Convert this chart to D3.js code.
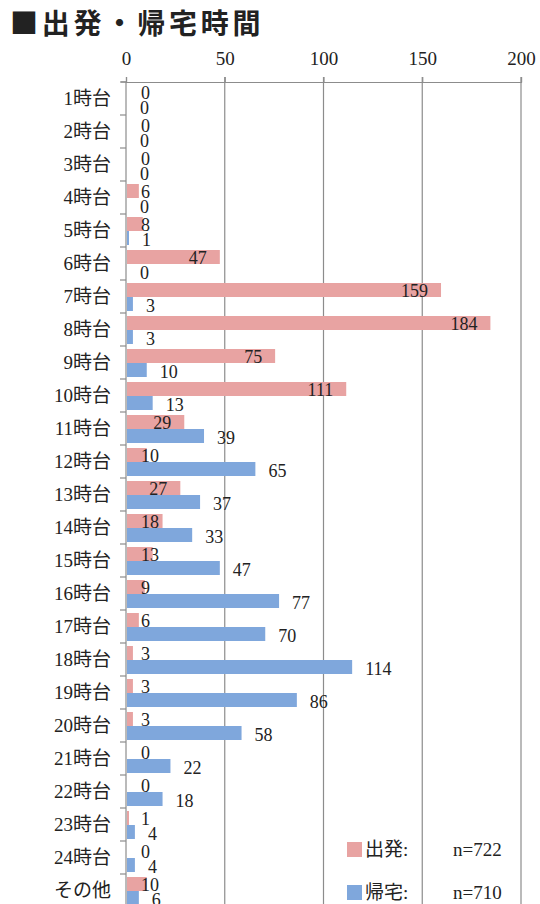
<!DOCTYPE html>
<html>
<head>
<meta charset="utf-8">
<script src="https://d3js.org/d3.v7.min.js"></script>
<style>
  body { margin: 0; background: #fff; }
  svg text { font-family: "Liberation Serif", "Noto Sans CJK JP", serif; fill: #222; }
</style>
</head>
<body>
<svg id="vis"></svg>
<script>
  // categories (time of day) and counts
  var hours = ["1時台","2時台","3時台","4時台","5時台","6時台","7時台","8時台","9時台","10時台",
    "11時台","12時台","13時台","14時台","15時台","16時台","17時台","18時台","19時台","20時台",
    "21時台","22時台","23時台","24時台","その他","dummy"];
  var depart = [0,0,0,6,8,47,159,184,75,111,29,10,27,18,13,9,6,3,3,3,0,0,1,0,10];
  var home   = [0,0,0,0,1,0,3,3,10,13,39,65,37,33,47,77,70,114,86,58,22,18,4,4,6];
  var xTicks = [0,50,100,150,200];
  var seriesNames = ["出発", "帰宅"];
  var seriesN = ["n=722", "n=710"];

  var pink = "#e8a3a2", blue = "#7fa7dc", grid = "#8c8c8c";

  var svg = d3.select("#vis").attr("width", 540).attr("height", 904);

  var x = d3.scaleLinear().domain([0, 200]).range([126, 521]);
  var y = d3.scaleBand().domain(hours).range([82, 82 + 26 * 33]);
  var cats = hours.slice(0, 25);

  // title
  svg.append("text")
    .attr("x", 10).attr("y", 34)
    .style("font-family", "'Noto Sans CJK JP', sans-serif")
    .style("font-weight", "bold")
    .style("font-size", "28px")
    .style("letter-spacing", "3.8px")
    .text("■出発・帰宅時間");

  // gridlines
  svg.selectAll(".grid")
    .data(xTicks.slice(1))
    .enter().append("line")
    .attr("x1", d => x(d)).attr("x2", d => x(d))
    .attr("y1", 77).attr("y2", 904)
    .attr("stroke", grid).attr("stroke-width", 1.2);

  // top axis
  var topAxis = svg.append("g").attr("transform", "translate(0,82)")
    .call(d3.axisTop(x).tickValues(xTicks).tickSize(5).tickPadding(12));
  topAxis.select(".domain").attr("stroke", grid).attr("stroke-width", 1.2);
  topAxis.selectAll(".tick line").attr("stroke", grid).attr("stroke-width", 1.2);
  topAxis.selectAll("text").style("font-size", "19px")
    .style("font-family", "'Liberation Serif', serif").attr("fill", "#222");
  svg.append("line")
    .attr("x1", x(0) - 5).attr("x2", x(0))
    .attr("y1", 82).attr("y2", 82)
    .attr("stroke", grid).attr("stroke-width", 1.2);

  // left axis: labels + boundary ticks
  var leftAxis = svg.append("g").attr("transform", "translate(" + x(0) + ",0)")
    .call(d3.axisLeft(y).tickValues(cats).tickSize(0).tickPadding(15));
  leftAxis.select(".domain").remove();
  leftAxis.selectAll("text").style("font-size", "19px")
    .style("font-family", "'Liberation Serif', 'Noto Sans CJK JP', serif").attr("fill", "#222");

  svg.append("line")
    .attr("x1", x(0)).attr("x2", x(0))
    .attr("y1", 82).attr("y2", 904)
    .attr("stroke", grid).attr("stroke-width", 1.2);
  svg.selectAll(".btick")
    .data(cats)
    .enter().append("line")
    .attr("x1", x(0) - 6).attr("x2", x(0))
    .attr("y1", d => y(d)).attr("y2", d => y(d))
    .attr("stroke", grid).attr("stroke-width", 1.2);

  // bars
  var bh = 14;
  svg.selectAll(".dep")
    .data(depart)
    .enter().append("rect")
    .attr("x", x(0) + 1)
    .attr("y", (d, i) => y(cats[i]) + 3)
    .attr("width", d => Math.max(0, x(d) - x(0)))
    .attr("height", bh)
    .attr("fill", pink);

  svg.selectAll(".home")
    .data(home)
    .enter().append("rect")
    .attr("x", x(0) + 1)
    .attr("y", (d, i) => y(cats[i]) + 17)
    .attr("width", d => Math.max(0, x(d) - x(0)))
    .attr("height", bh)
    .attr("fill", blue);

  // value labels
  svg.selectAll(".depLab")
    .data(depart)
    .enter().append("text")
    .attr("y", (d, i) => y(cats[i]) + 3 + bh / 2 + 1)
    .attr("dy", "0.35em")
    .style("font-size", "18px")
    .text(d => d)
    .each(function(d) {
      var w = this.getComputedTextLength();
      var end = x(d) - 12;
      var start = end - w < x(0) + 15 ? x(0) + 15 : end - w;
      d3.select(this).attr("x", start);
    });

  svg.selectAll(".homeLab")
    .data(home)
    .enter().append("text")
    .attr("x", d => x(d) + 14)
    .attr("y", (d, i) => y(cats[i]) + 17 + bh / 2 + 2)
    .attr("dy", "0.35em")
    .style("font-size", "18px")
    .text(d => d);

  // legend
  var leg = svg.selectAll(".leg")
    .data(seriesNames)
    .enter().append("g")
    .attr("transform", (d, i) => "translate(347," + (849 + i * 43) + ")");
  leg.append("rect")
    .attr("x", 0).attr("y", -7).attr("width", 15).attr("height", 15)
    .attr("fill", (d, i) => i === 0 ? pink : blue);
  leg.append("text")
    .attr("x", 18).attr("dy", "0.35em")
    .style("font-size", "19px")
    .text(d => d + ":");
  leg.append("text")
    .attr("x", 106).attr("dy", "0.35em")
    .style("font-size", "19px")
    .text((d, i) => seriesN[i]);
</script>
</body>
</html>
